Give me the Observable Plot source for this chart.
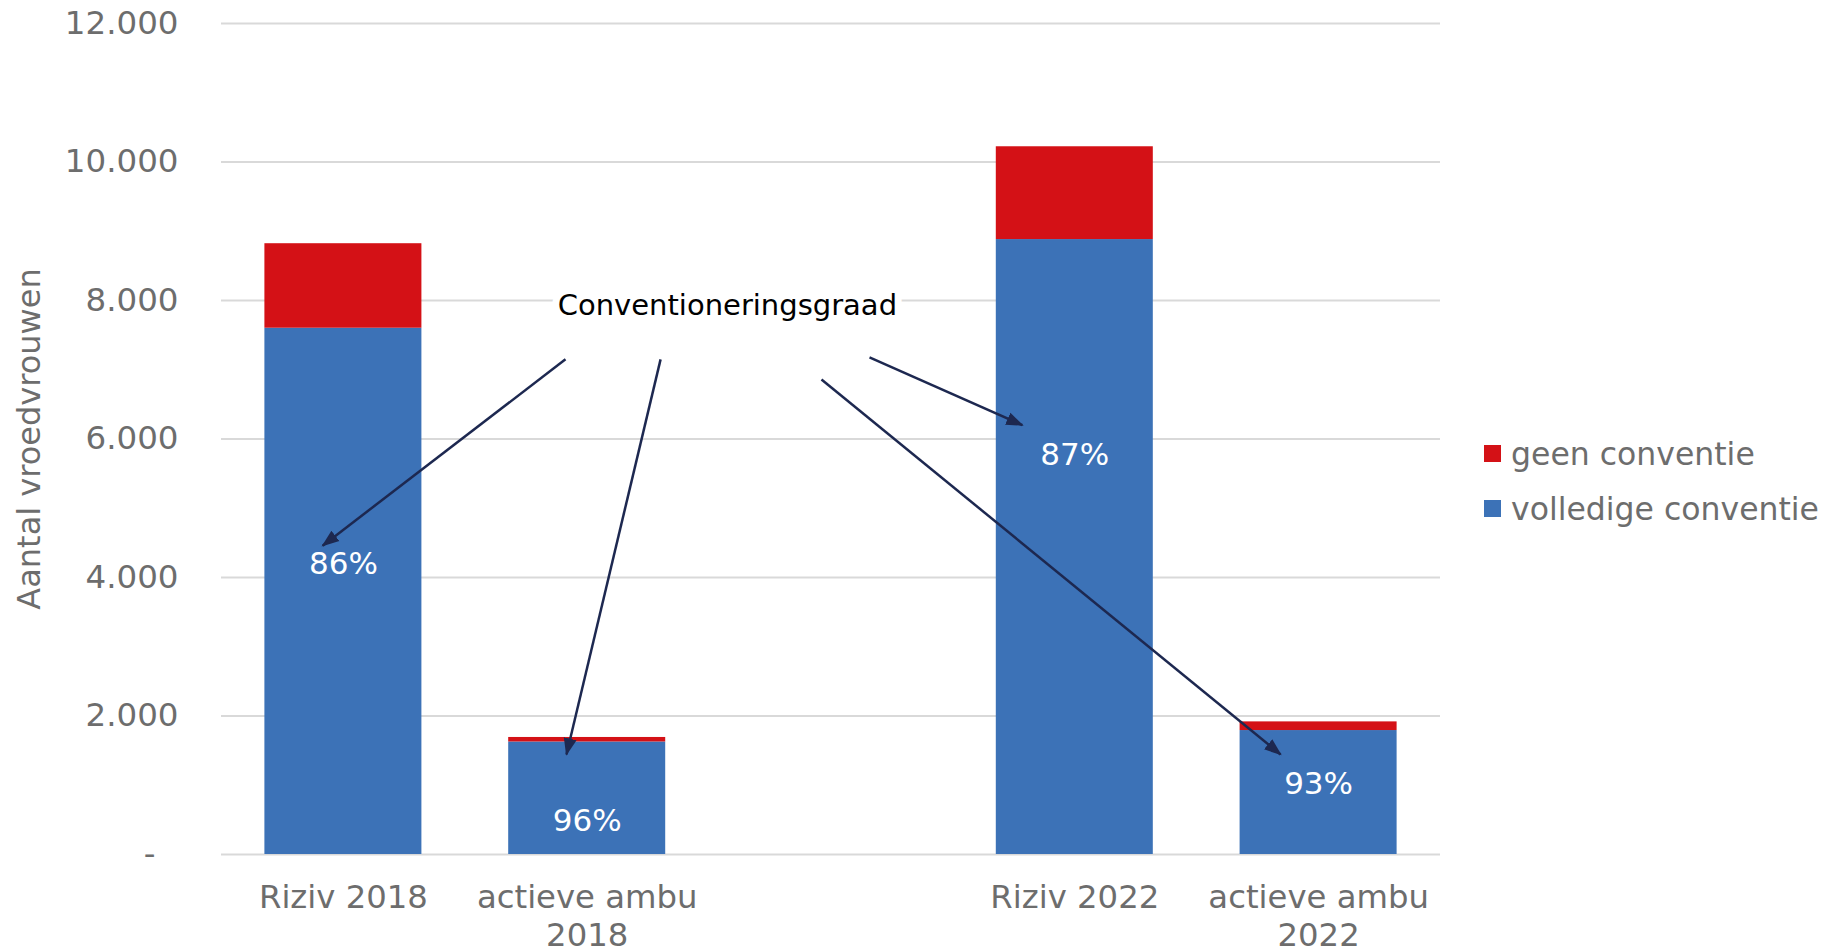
<!DOCTYPE html>
<html>
<head>
<meta charset="utf-8">
<script src="https://cdn.jsdelivr.net/npm/d3@7"></script>
<script src="https://cdn.jsdelivr.net/npm/@observablehq/plot@0.6"></script>
<style>
  html, body { margin: 0; padding: 0; background: #ffffff; }
  #wrap { position: relative; width: 1824px; height: 952px; font-family: "DejaVu Sans", Verdana, sans-serif; }
  #legend { position: absolute; left: 1484px; top: 426px; color: #6d6d6d; font-size: 31.5px; }
  #legend .row { display: flex; align-items: center; height: 55px; white-space: nowrap; }
  #legend .sw { width: 17px; height: 17px; margin-right: 10px; }
</style>
</head>
<body>
<div id="wrap"></div>
<script>
// ---- data ----
const categories = ["Riziv 2018", "actieve ambu\n2018", "", "Riziv 2022", "actieve ambu\n2022"];
const series = ["geen conventie", "volledige conventie"];
const volledige = [7600, 1625, null, 8880, 1790];
const geen = [1220, 65, null, 1340, 125];
const percentLabels = ["86%", "96%", null, "87%", "93%"];
const percentLabelValue = [4190, 480, null, 5770, 1010];
const yTicks = [0, 2000, 4000, 6000, 8000, 10000, 12000];
const yTitle = "Aantal vroedvrouwen";
const annotationText = "Conventioneringsgraad";
const annotationX = [1.575];
const annotationY = [7930];
const arrowX1 = [0.911, 1.301, 2.158, 1.961];
const arrowY1 = [7150, 7150, 7180, 6860];
const arrowX2 = [-0.085, 0.915, 2.785, 3.844];
const arrowY2 = [4460, 1445, 6200, 1445];

const colors = {"geen conventie": "#d41116", "volledige conventie": "#3c72b7"};
const textGray = "#6d6d6d";

// ---- derived tables ----
const segments = [];
categories.forEach((c, i) => {
  if (volledige[i] == null) return;
  segments.push({i, series: "volledige conventie", y1: 0, y2: volledige[i]});
  segments.push({i, series: "geen conventie", y1: volledige[i], y2: volledige[i] + geen[i]});
});
const labels = categories.map((c, i) => ({i, c, p: percentLabels[i], v: percentLabelValue[i]})).filter(d => d.p != null);
const catLabels = categories.map((c, i) => ({i, c})).filter(d => d.c !== "");
const arrows = arrowX1.map((x, k) => ({x1: x, y1: arrowY1[k], x2: arrowX2[k], y2: arrowY2[k]}));
const annotation = annotationX.map((x, k) => ({x, y: annotationY[k], t: annotationText}));

const locale = d3.formatLocale({decimal: ",", thousands: ".", grouping: [3], currency: ["", ""]});
const fmt = locale.format(",d");
const half = 0.322;

function filledArrow(color) {
  const m = d3.create("svg:marker")
    .attr("viewBox", "-6 -5 12 10")
    .attr("markerWidth", 7)
    .attr("markerHeight", 6)
    .attr("refX", 5)
    .attr("orient", "auto");
  m.append("path").attr("d", "M-6,-4.5L6,0L-6,4.5Z").attr("fill", color).attr("stroke", "none");
  return m.node();
}

const chart = Plot.plot({
  width: 1824,
  height: 952,
  marginLeft: 221,
  marginRight: 384,
  marginTop: 23,
  marginBottom: 98,
  style: {fontFamily: "'DejaVu Sans', Verdana, sans-serif", fontSize: "32px", color: textGray, background: "#ffffff", overflow: "visible"},
  x: {type: "linear", domain: [-0.5, 4.5], axis: null},
  y: {domain: [0, 12000], axis: null},
  marks: [
    Plot.ruleY(yTicks, {stroke: "#d9d9d9", strokeWidth: 2}),
    Plot.text(yTicks.filter(d => d !== 0), {frameAnchor: "left", y: d => d, text: d => fmt(d), textAnchor: "end", dx: -43, fill: textGray, fontSize: 32.5}),
    Plot.text(yTicks.filter(d => d === 0), {frameAnchor: "left", y: d => d, text: () => "-", textAnchor: "end", dx: -66, fill: textGray, fontSize: 32.5}),
    Plot.text([yTitle], {frameAnchor: "left", text: d => d, rotate: -90, dx: -192, fill: textGray, fontSize: 32, textAnchor: "middle"}),
    Plot.rectY(segments, {x1: d => d.i - half, x2: d => d.i + half, y1: "y1", y2: "y2", fill: d => colors[d.series]}),
    Plot.text(catLabels, {x: "i", y: 0, text: "c", lineAnchor: "top", dy: 26, fill: textGray, fontSize: 32.3, lineHeight: 1.19}),
    Plot.text(labels, {x: "i", y: "v", text: "p", fill: "#ffffff", fontSize: 31}),
    Plot.text(annotation, {x: "x", y: "y", text: "t", fill: "#000000", fontSize: 29, stroke: "#ffffff", strokeWidth: 14, paintOrder: "stroke"}),
    Plot.link(arrows, {x1: "x1", y1: "y1", x2: "x2", y2: "y2", stroke: "#1d2850", strokeWidth: 2.5, markerEnd: filledArrow})
  ]
});

const wrap = document.getElementById("wrap");
wrap.appendChild(chart);
const legend = document.createElement("div");
legend.id = "legend";
series.forEach(s => {
  const row = document.createElement("div");
  row.className = "row";
  const sw = document.createElement("span");
  sw.className = "sw";
  sw.style.background = colors[s];
  const t = document.createElement("span");
  t.textContent = s;
  row.appendChild(sw);
  row.appendChild(t);
  legend.appendChild(row);
});
wrap.appendChild(legend);
</script>
</body>
</html>
